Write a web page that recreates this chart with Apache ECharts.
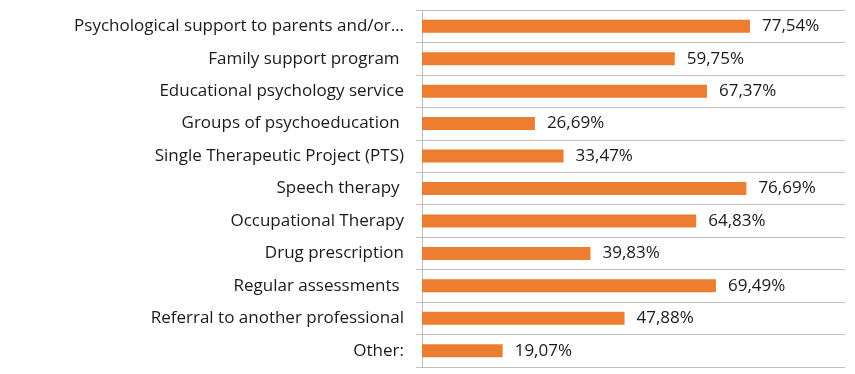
<!DOCTYPE html>
<html>
<head>
<meta charset="utf-8">
<script src="https://cdn.jsdelivr.net/npm/echarts@6/dist/echarts.min.js"></script>
<style>
  html, body { margin: 0; padding: 0; background: #fff; }
  #container { width: 855px; height: 374px; }
</style>
</head>
<body>
<div id="container"></div>
<script>
// categories top to bottom
const categories = [
  'Psychological support to parents and/or…',
  'Family support program ',
  'Educational psychology service',
  'Groups of psychoeducation ',
  'Single Therapeutic Project (PTS)',
  'Speech therapy ',
  'Occupational Therapy',
  'Drug prescription',
  'Regular assessments ',
  'Referral to another professional',
  'Other:'
]
const percents = [77.54, 59.75, 67.37, 26.69, 33.47, 76.69, 64.83, 39.83, 69.49, 47.88, 19.07]

const chart = echarts.init(document.getElementById('container'))
chart.setOption({
  animation: false,
  textStyle: { fontFamily: 'Open Sans' },
  grid: { left: 422, right: 10, top: 10, bottom: 7 },
  xAxis: {
    type: 'value',
    min: 0,
    max: 100,
    show: false
  },
  yAxis: {
    type: 'category',
    data: categories,
    inverse: true,
    axisLine: { show: true, lineStyle: { color: '#bfbfbf', width: 1 } },
    axisTick: { show: true, length: 6, lineStyle: { color: '#bfbfbf' } },
    splitLine: { show: true, lineStyle: { color: '#bfbfbf', width: 1 } },
    axisLabel: { color: '#1a1a1a', fontSize: 17, margin: 18 }
  },
  series: [{
    type: 'bar',
    data: percents,
    barWidth: 13,
    itemStyle: { color: '#ED7D31' },
    label: {
      show: true,
      position: 'right',
      distance: 12,
      color: '#1a1a1a',
      fontSize: 17,
      formatter: p => p.value.toFixed(2).replace('.', ',') + '%'
    }
  }]
})
</script>
</body>
</html>
